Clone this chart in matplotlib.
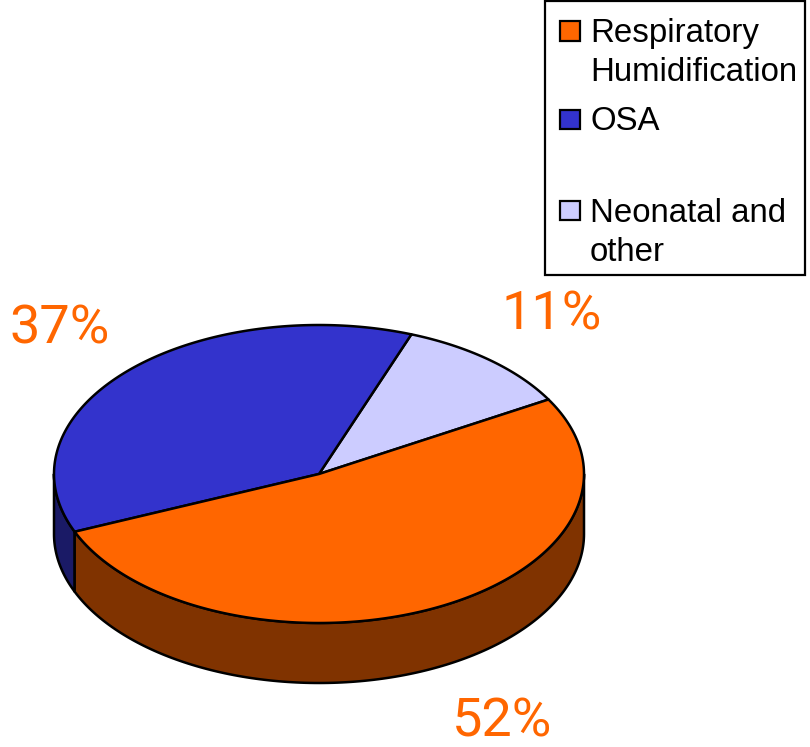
import numpy as np
import matplotlib
matplotlib.use("Agg")
import matplotlib.pyplot as plt
from matplotlib.patches import Polygon, Rectangle

categories = ["Neonatal and\nother", "OSA", "Respiratory\nHumidification"]
shares = [11, 37, 52]
top_colors = ["#CCCCFF", "#3333CC", "#FF6600"]
side_colors = ["#66667F", "#1A1A66", "#803300"]
pct_labels = ["11%", "37%", "52%"]
legend_order = [2, 1, 0]

W, H = 810, 747
fig = plt.figure(figsize=(W / 100, H / 100), dpi=100)
ax = fig.add_axes([0, 0, 1, 1])
ax.set_xlim(0, W)
ax.set_ylim(H, 0)
ax.axis("off")

cx, cy, rx, ry, depth = 319, 474, 265, 149, 60
start = 30.0
lw = 1.8


def arc(a0, a1, n=160):
    t = np.radians(np.linspace(a0, a1, n))
    return np.column_stack([cx + rx * np.cos(t), cy - ry * np.sin(t)])


total = sum(shares)
spans = [s / total * 360 for s in shares]
edges = start + np.concatenate([[0], np.cumsum(spans)])

# side walls: the front half of the ellipse, extruded downward
for i in range(3):
    a0 = max(edges[i], 180)
    a1 = min(edges[i + 1], 360)
    if a1 <= a0:
        continue
    top = arc(a0, a1)
    bottom = top[::-1] + [0, depth]
    ax.add_patch(Polygon(np.vstack([top, bottom]), closed=True, fc=side_colors[i],
                         ec="black", lw=lw, joinstyle="round", zorder=2))

# top faces
for i in range(3):
    pts = np.vstack([[cx, cy], arc(edges[i], edges[i + 1])])
    ax.add_patch(Polygon(pts, closed=True, fc=top_colors[i], ec="black", lw=lw,
                         joinstyle="round", zorder=3))

# percentage labels
label_pos = [(552, 315), (60, 329), (502, 722)]
for txt, (x, y) in zip(pct_labels, label_pos):
    ax.text(x, y, txt, color="#FF6600", fontsize=39, family="Roboto", fontweight="regular",
            ha="center", va="center", zorder=5)

# legend
ax.add_patch(Rectangle((545, 1), 260, 274, fc="white", ec="black", lw=1.6, zorder=4))
legend_text_y = [53, 122, 233]
legend_sw_y = [30.5, 119, 210]
for k, idx, ty, sy in zip(range(3), legend_order, legend_text_y, legend_sw_y):
    ax.add_patch(Rectangle((560, sy - 9.5), 19.5, 19.5, fc=top_colors[idx], ec="black", lw=1.6, zorder=5))
    ax.text(590, ty, categories[idx], fontsize=23.8, family="Liberation Sans", color="black",
            ha="left", va="center", linespacing=1.3, zorder=5)

fig.savefig("out.png", dpi=100, facecolor="white")
